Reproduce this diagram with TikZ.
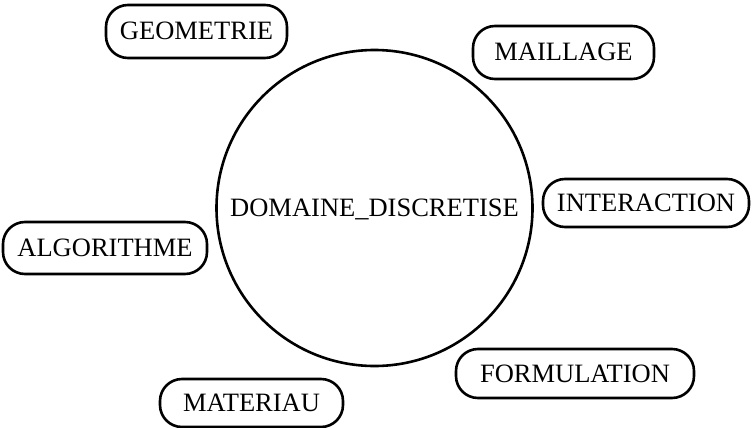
\documentclass[tikz,border=0pt]{standalone}
\usepackage{fontspec}
\setmainfont{Liberation Serif}
\begin{document}
\begin{tikzpicture}[x=1pt,y=-1pt,
  label text/.style={font=\fontsize{26.5}{28}\selectfont, text height=17pt, text depth=0pt, inner sep=0pt},
  topic/.style={label text, draw, line width=2.6pt, rounded corners=22pt, minimum height=#1},
  topic/.default=50pt,
  hubcircle/.style={draw, circle, line width=2.6pt, minimum size=316pt, label text}]
\useasboundingbox (0,0) rectangle (752,428);
% central discretised domain
\node[hubcircle] (dom) at (374.5,208) {DOMAINE\_DISCRETISE};
% surrounding topics
\node[topic=53pt, minimum width=181pt] (geo) at (196.5,31.5) {GEOMETRIE};
\node[topic=53pt, minimum width=181pt] (mail) at (563.5,52.5) {MAILLAGE};
\node[topic=48pt, minimum width=206pt] (inter) at (646,203) {INTERACTION};
\node[topic=52pt, minimum width=204pt] (algo) at (105,248) {ALGORITHME};
\node[topic=48pt, minimum width=183pt] (mat) at (251.5,403) {MATERIAU};
\node[topic=49pt, minimum width=238pt] (form) at (575,373.5) {FORMULATION};
\end{tikzpicture}
\end{document}
